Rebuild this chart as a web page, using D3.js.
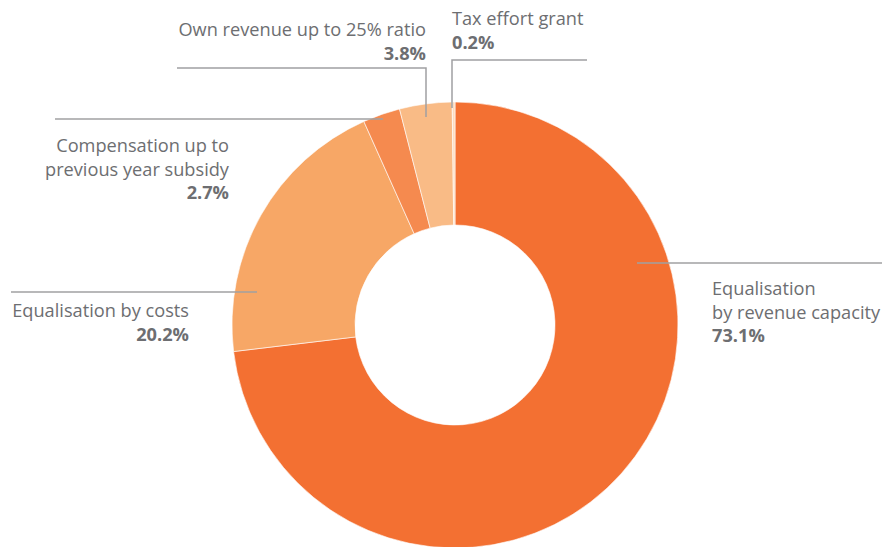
<!DOCTYPE html>
<html>
<head>
<meta charset="utf-8">
<script src="https://cdn.jsdelivr.net/npm/d3@7"></script>
<style>
  body { margin: 0; background: #fff; }
  svg text { font-family: "Open Sans", "Noto Sans", sans-serif; }
</style>
</head>
<body>
<svg id="mainsvg" width="882" height="547"></svg>
<script>
// data, clockwise from 12 o'clock
const categories = ['Equalisation by revenue capacity', 'Equalisation by costs',
  'Compensation up to previous year subsidy', 'Own revenue up to 25% ratio', 'Tax effort grant']
const values = [73.1, 20.2, 2.7, 3.8, 0.2]
const colors = ['#f37032', '#f7a766', '#f58a4f', '#f9bb86', '#fddcbf']
const labelLines = [
  ['Equalisation', 'by revenue capacity'],
  ['Equalisation by costs'],
  ['Compensation up to', 'previous year subsidy'],
  ['Own revenue up to 25% ratio'],
  ['Tax effort grant']
]

const width = 882, height = 547
const cx = 455, cy = 325
const outerR = 223, innerR = 100
const textColor = '#6d6e71', lineColor = '#a0a0a2'
const fs = 18.2, lh = 23.5

const svg = d3.select('#mainsvg')
const g = svg.append('g').attr('transform', `translate(${cx},${cy})`)

const pie = d3.pie().sort(null).value(d => d)
const arcs = pie(values)
const arc = d3.arc().innerRadius(innerR).outerRadius(outerR)

g.selectAll('path.slice')
  .data(arcs)
  .enter().append('path')
  .attr('class', 'slice')
  .attr('d', arc)
  .attr('fill', (d, i) => colors[i])
  .attr('stroke', '#fff')
  .attr('stroke-width', 0.6)

// leader layout: pts = polyline (absolute), text anchor / position
const layout = [
  {pts: [[637, 263], [882, 263]], x: 712, y: 295, anchor: 'start'},
  {pts: [[257, 292], [11, 292]], x: 189, y: 317, anchor: 'end'},
  {pts: [[383, 119], [55, 119]], x: 229, y: 152, anchor: 'end'},
  {pts: [[426, 117], [426, 68], [177, 68]], x: 426, y: 36, anchor: 'end'},
  {pts: [[452, 108], [452, 60], [587, 60]], x: 452, y: 25, anchor: 'start'}
]

const line = d3.line()
layout.forEach((l, i) => {
  svg.append('path')
    .attr('d', line(l.pts))
    .attr('fill', 'none')
    .attr('stroke', lineColor)
    .attr('stroke-width', 1.5)

  const t = svg.append('text')
    .attr('x', l.x)
    .attr('y', l.y)
    .attr('text-anchor', l.anchor)
    .attr('fill', textColor)
    .style('font-size', fs + 'px')
  labelLines[i].forEach((s, k) => {
    t.append('tspan').attr('x', l.x).attr('dy', k === 0 ? 0 : lh).text(s)
  })
  t.append('tspan').attr('x', l.x).attr('dy', lh)
    .style('font-weight', 'bold')
    .text(values[i].toFixed(1) + '%')
})
</script>
</body>
</html>
